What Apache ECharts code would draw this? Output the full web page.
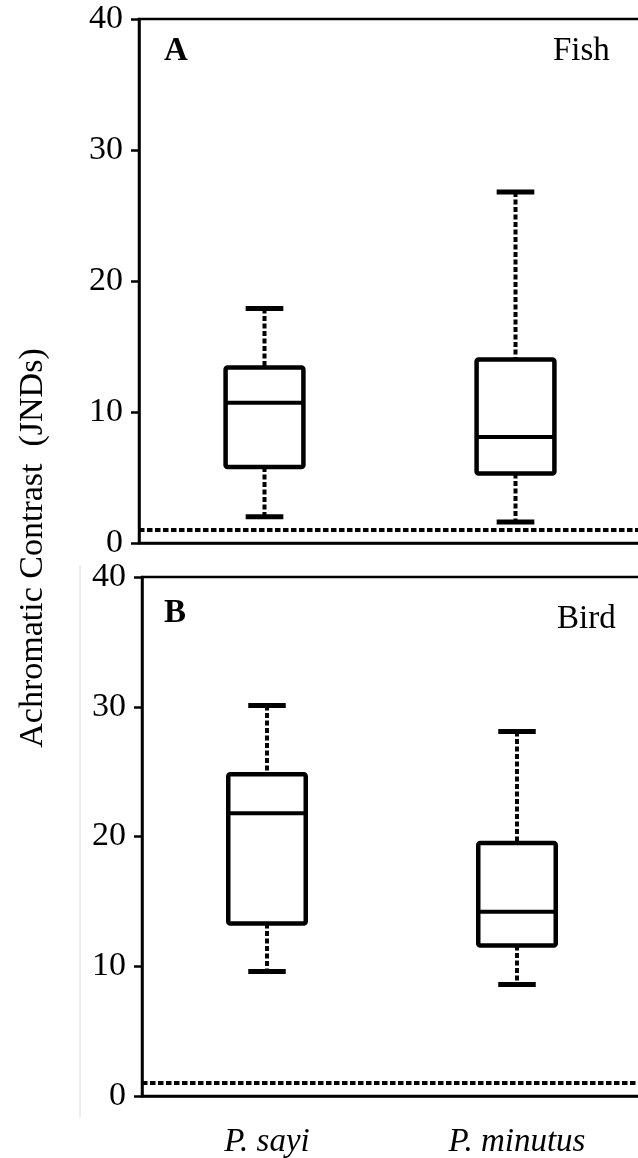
<!DOCTYPE html>
<html>
<head>
<meta charset="utf-8">
<script src="https://cdn.jsdelivr.net/npm/echarts@6/dist/echarts.min.js"></script>
<style>
  html, body { margin: 0; padding: 0; background: #fff; }
  #chart { width: 638px; height: 1158px; }
</style>
</head>
<body>
<div id="chart"></div>
<script>
// species on the x axis
var species = ['P. sayi', 'P. minutus'];
// [lower whisker, Q1, median, Q3, upper whisker]
var fishSayi = [2.0, 5.8, 10.7, 13.4, 17.9];
var fishMinutus = [1.6, 5.3, 8.1, 14.0, 26.8];
var birdSayi = [9.6, 13.3, 21.8, 24.8, 30.1];
var birdMinutus = [8.6, 11.6, 14.2, 19.5, 28.1];
// y axis ticks and the 1 JND threshold
var yTicks = [0, 10, 20, 30, 40];
var threshold = 1;

var font = 'Liberation Serif';

function boxRows(list) {
  return list.map(function (v, i) { return [i].concat(v); });
}

// 盒须图：虚线须，实线盒子
function renderBox(params, api) {
  var x = api.value(0);
  var lo = api.coord([x, api.value(1)]);
  var q1 = api.coord([x, api.value(2)]);
  var md = api.coord([x, api.value(3)]);
  var q3 = api.coord([x, api.value(4)]);
  var hi = api.coord([x, api.value(5)]);
  var band = api.size([1, 0])[0];
  var bw = band * 0.31;
  var cw = band * 0.15;
  var cx = q1[0];
  var dash = { stroke: '#000', lineWidth: 4, lineDash: [5, 2.5], fill: null };
  var solid = { stroke: '#000', lineWidth: 5, fill: null };
  return {
    type: 'group',
    children: [
      { type: 'line', shape: { x1: cx, y1: hi[1], x2: cx, y2: q3[1] }, style: dash },
      { type: 'line', shape: { x1: cx, y1: q1[1], x2: cx, y2: lo[1] }, style: dash },
      { type: 'line', shape: { x1: cx - cw / 2, y1: hi[1], x2: cx + cw / 2, y2: hi[1] }, style: solid },
      { type: 'line', shape: { x1: cx - cw / 2, y1: lo[1], x2: cx + cw / 2, y2: lo[1] }, style: solid },
      {
        type: 'rect',
        shape: { x: cx - bw / 2, y: q3[1], width: bw, height: q1[1] - q3[1], r: 2 },
        style: { fill: '#fff', stroke: '#000', lineWidth: 4.5 }
      },
      { type: 'line', shape: { x1: cx - bw / 2, y1: md[1], x2: cx + bw / 2, y2: md[1] }, style: { stroke: '#000', lineWidth: 4 } }
    ]
  };
}

var thresholdLine = {
  silent: true,
  symbol: 'none',
  animation: false,
  label: { show: false },
  lineStyle: { color: '#000', width: 4, type: [5.5, 2.5], opacity: 1 },
  data: [{ yAxis: threshold }]
};

function yAxisOf(gridIndex) {
  return {
    type: 'value',
    gridIndex: gridIndex,
    min: yTicks[0],
    max: yTicks[yTicks.length - 1],
    interval: yTicks[1] - yTicks[0],
    axisLine: { show: true, lineStyle: { color: '#000', width: 2.5 } },
    axisTick: { show: true, inside: false, length: 8, lineStyle: { color: '#000', width: 2.5 } },
    splitLine: { show: false },
    axisLabel: { color: '#000', fontFamily: font, fontSize: 34, margin: 16 }
  };
}

function xAxisOf(gridIndex, showLabel) {
  return {
    type: 'category',
    gridIndex: gridIndex,
    data: species,
    boundaryGap: true,
    axisLine: { show: true, lineStyle: { color: '#000', width: 2.5 } },
    axisTick: { show: false },
    splitLine: { show: false },
    axisLabel: {
      show: showLabel, color: '#000', fontFamily: font, fontSize: 33,
      fontStyle: 'italic', margin: 30
    }
  };
}

var chart = echarts.init(document.getElementById('chart'));
chart.setOption({
  backgroundColor: '#fff',
  animation: false,
  grid: [
    { left: 139, top: 19, width: 502, height: 524, outerBoundsMode: 'none', containLabel: false, show: true, borderColor: '#000', borderWidth: 2.5, backgroundColor: 'transparent' },
    { left: 142, top: 577, width: 500, height: 519, outerBoundsMode: 'none', containLabel: false, show: true, borderColor: '#000', borderWidth: 2.5, backgroundColor: 'transparent' }
  ],
  xAxis: [xAxisOf(0, false), xAxisOf(1, true)],
  yAxis: [yAxisOf(0), yAxisOf(1)],
  series: [
    {
      type: 'custom', name: 'Fish', xAxisIndex: 0, yAxisIndex: 0,
      renderItem: renderBox,
      encode: { x: 0, y: [1, 2, 3, 4, 5] },
      data: boxRows([fishSayi, fishMinutus]),
      markLine: thresholdLine,
      z: 3
    },
    {
      type: 'custom', name: 'Bird', xAxisIndex: 1, yAxisIndex: 1,
      renderItem: renderBox,
      encode: { x: 0, y: [1, 2, 3, 4, 5] },
      data: boxRows([birdSayi, birdMinutus]),
      markLine: thresholdLine,
      z: 3
    }
  ],
  graphic: [
    // 纵轴标题
    {
      type: 'text', x: 33, y: 548, rotation: Math.PI / 2,
      style: { text: 'Achromatic Contrast  (JNDs)', font: '34px "Liberation Serif"', fill: '#000', align: 'center', verticalAlign: 'middle' }
    },
    { type: 'text', x: 164, y: 51, style: { text: 'A', font: 'bold 33px "Liberation Serif"', fill: '#000', align: 'left', verticalAlign: 'middle' } },
    { type: 'text', x: 553, y: 51, style: { text: 'Fish', font: '33px "Liberation Serif"', fill: '#000', align: 'left', verticalAlign: 'middle' } },
    { type: 'text', x: 164, y: 613, style: { text: 'B', font: 'bold 33px "Liberation Serif"', fill: '#000', align: 'left', verticalAlign: 'middle' } },
    { type: 'text', x: 557, y: 619, style: { text: 'Bird', font: '33px "Liberation Serif"', fill: '#000', align: 'left', verticalAlign: 'middle' } },
    // 扫描留下的浅灰竖线
    { type: 'line', shape: { x1: 80, y1: 565, x2: 80, y2: 1117 }, style: { stroke: '#dcdcdc', lineWidth: 1 } }
  ]
});
</script>
</body>
</html>
